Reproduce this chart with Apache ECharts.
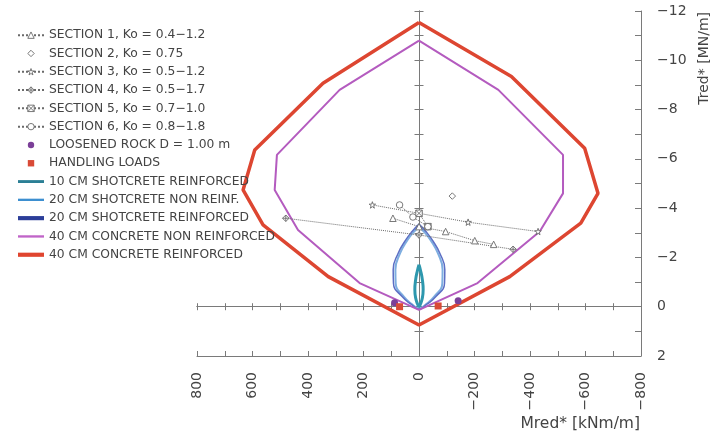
<!DOCTYPE html>
<html><head><meta charset="utf-8">
<script src="https://cdn.jsdelivr.net/npm/echarts@6/dist/echarts.min.js"></script>
<style>html,body{margin:0;padding:0;background:#fff}#c{width:728px;height:435px}</style>
</head><body><div id="c"></div>
<script>
// ---- data (M in kNm/m, T in MN/m) ----
const xMin = -800, xMax = 800, xStep = 100;
const yMin = -12, yMax = 2, yStep = 1;

const sec1 = [[94,-3.59],[0,-3.25],[-96,-3.05],[-201,-2.68],[-269,-2.53]];
const sec2 = [[-120,-4.49]];
const sec3 = [[168,-4.13],[0,-3.79],[-177,-3.43],[-429,-3.05]];
const sec4 = [[480,-3.59],[0,-2.91],[-339,-2.33]];
const sec5 = [[0,-3.79],[-32,-3.25]];
const sec6 = [[70,-4.13],[22,-3.64],[-32,-3.25]];
const loosenedRock = [[88,-0.16],[-141,-0.24]];
const handlingLoads = [[70,0],[-69,-0.03]];

const shot10Reinf = [[0,-1.7],[6,-1.45],[12,-1.1],[15,-0.7],[12,-0.35],[5,-0.1],[0,-0.02],[-5,-0.1],[-12,-0.35],[-15,-0.7],[-12,-1.1],[-6,-1.45],[0,-1.7]];
const shot20NonReinf = [[0,-3.25],[22,-3.0],[42,-2.7],[68,-2.17],[85,-1.5],[84,-0.95],[54,-0.4],[25,-0.1],[0,0.07],[-25,-0.1],[-54,-0.4],[-84,-0.95],[-85,-1.5],[-68,-2.17],[-42,-2.7],[-22,-3.0],[0,-3.25]];
const shot20Reinf = [[0,-3.35],[25,-3.05],[47,-2.72],[75,-2.17],[93,-1.5],[92,-0.95],[60,-0.4],[28,-0.1],[0,0.1],[-28,-0.1],[-60,-0.4],[-92,-0.95],[-93,-1.5],[-75,-2.17],[-47,-2.72],[-25,-3.05],[0,-3.35]];
const conc40NonReinf = [[0,-10.8],[286,-8.8],[512,-6.16],[520,-4.74],[436,-3.11],[214,-0.96],[0,0.13],[-211,-0.96],[-435,-3.05],[-519,-4.6],[-519,-6.16],[-286,-8.8],[0,-10.8]];
const conc40Reinf = [[0,-11.53],[346,-9.07],[592,-6.36],[634,-4.74],[562,-3.32],[327,-1.22],[0,0.74],[-327,-1.22],[-583,-3.39],[-645,-4.6],[-597,-6.43],[-333,-9.34],[0,-11.53]];

const names = [
  'SECTION 1, Ko = 0.4\u22121.2',
  'SECTION 2, Ko = 0.75',
  'SECTION 3, Ko = 0.5\u22121.2',
  'SECTION 4, Ko = 0.5\u22121.7',
  'SECTION 5, Ko = 0.7\u22121.0',
  'SECTION 6, Ko = 0.8\u22121.8',
  'LOOSENED ROCK D = 1.00 m',
  'HANDLING LOADS',
  '10 CM SHOTCRETE REINFORCED',
  '20 CM SHOTCRETE NON REINF.',
  '20 CM SHOTCRETE REINFORCED',
  '40 CM CONCRETE NON REINFORCED',
  '40 CM CONCRETE REINFORCED'
];
const xTitle = 'Mred* [kNm/m]';
const yTitle = 'Tred* [MN/m]';

// ---- chart ----
const FONT = 'DejaVu Sans';
const AX = '#7a7a7a';
const GR = '#6a6a6a';
const fmt = v => v < 0 ? '\u2212' + Math.abs(v) : String(v);
const triPath = 'path://M50,4 L98,90 L2,90 Z';
const diaPath = 'path://M50,0 L80,50 L50,100 L20,50 Z';
const starPath = 'path://M50,2 L61,36 L97,36 L68,57 L79,92 L50,71 L21,92 L32,57 L3,36 L39,36 Z';
const diaCross = 'path://M50,0 L100,50 L50,100 L0,50 Z M50,0 L50,100 M0,50 L100,50';
const boxX = 'path://M5,5 L95,5 L95,95 L5,95 Z M5,5 L95,95 M95,5 L5,95';
const circPath = 'path://M50,3 A47,47 0 1 1 49.9,3 Z';
const bar = h => 'path://M0,0 L100,0 L100,' + h + ' L0,' + h + ' Z';

function secSeries(name, data, symbol, withLine) {
  return {
    name, type: 'line', data, symbol, symbolSize: 6.5, showSymbol: true, z: 5,
    lineStyle: { color: GR, width: 1, type: 'dotted', opacity: withLine ? 1 : 0 },
    itemStyle: { color: '#fff', borderColor: GR, borderWidth: 0.9 }
  };
}
function envSeries(name, data, color, width, z, smooth) {
  return { name, type: 'line', data, showSymbol: false, symbol: 'none', smooth: !!smooth, z,
    lineStyle: { color, width }, itemStyle: { color } };
}

const baseX = { type: 'value', min: xMin, max: xMax, interval: xStep, inverse: true, splitLine: { show: false } };
const baseY = { type: 'value', min: yMin, max: yMax, interval: yStep, inverse: true, splitLine: { show: false } };

const legendData = names.map((n, i) => {
  if (i < 6) return { name: n, itemStyle: { color: '#fff', borderColor: GR, borderWidth: 0.9 } };
  if (i === 8) return { name: n, icon: bar(11), itemStyle: { color: '#2b7f95' } };
  if (i === 9) return { name: n, icon: bar(9), itemStyle: { color: '#3d8fd0' } };
  if (i === 10) return { name: n, icon: bar(16), itemStyle: { color: '#2c3e99' } };
  if (i === 11) return { name: n, icon: bar(9), itemStyle: { color: '#c064c8' } };
  if (i === 12) return { name: n, icon: bar(16), itemStyle: { color: '#e0452f' } };
  return { name: n };
});

const chart = echarts.init(document.getElementById('c'), null, { renderer: 'canvas' });
chart.setOption({
  animation: false,
  backgroundColor: '#fff',
  grid: { left: 197, right: 87, top: 11, bottom: 79, containLabel: false, outerBoundsMode: 'none' },
  xAxis: [
    Object.assign({}, baseX, { position: 'bottom',
      axisLine: { onZero: false, lineStyle: { color: AX } },
      axisTick: { inside: true, length: 5, lineStyle: { color: AX } },
      axisLabel: { rotate: 90, margin: 16, fontSize: 14, fontFamily: FONT, color: '#444',
        formatter: v => v % 200 === 0 ? fmt(v) : '' } }),
    Object.assign({}, baseX, { position: 'bottom',
      axisLine: { onZero: true, onZeroAxisIndex: 0, lineStyle: { color: AX } },
      axisTick: { inside: true, length: 3.5, lineStyle: { color: AX } }, axisLabel: { show: false } }),
    Object.assign({}, baseX, { position: 'bottom',
      axisLine: { onZero: true, onZeroAxisIndex: 0, lineStyle: { color: AX } },
      axisTick: { inside: false, length: 3.5, lineStyle: { color: AX } }, axisLabel: { show: false } })
  ],
  yAxis: [
    Object.assign({}, baseY, { position: 'right',
      axisLine: { onZero: false, lineStyle: { color: AX } },
      axisTick: { inside: true, length: 6, lineStyle: { color: AX } },
      axisLabel: { margin: 16, fontSize: 14, fontFamily: FONT, color: '#444',
        formatter: v => v % 2 === 0 ? fmt(v) : '' } }),
    Object.assign({}, baseY, { position: 'left',
      axisLine: { onZero: true, onZeroAxisIndex: 0, lineStyle: { color: AX } },
      axisTick: { inside: true, length: 4.5, lineStyle: { color: AX } }, axisLabel: { show: false } }),
    Object.assign({}, baseY, { position: 'left',
      axisLine: { onZero: true, onZeroAxisIndex: 0, lineStyle: { color: AX } },
      axisTick: { inside: false, length: 4.5, lineStyle: { color: AX } }, axisLabel: { show: false } })
  ],
  legend: {
    orient: 'vertical', left: 17, top: 26, padding: 0, itemWidth: 26, itemHeight: 8, itemGap: 0,
    textStyle: { fontFamily: FONT, fontSize: 12.3, color: '#444', lineHeight: 18.3 },
    data: legendData
  },
  graphic: [
    { type: 'text', right: 88, top: 416, style: { text: xTitle, font: '15.5px "DejaVu Sans"', fill: '#444' } },
    { type: 'text', left: 697, top: 12, rotation: Math.PI / 2, originX: 0, originY: 0,
      style: { text: yTitle, font: '14px "DejaVu Sans"', fill: '#444' } }
  ],
  series: [
    secSeries(names[0], sec1, triPath, true),
    secSeries(names[1], sec2, diaPath, false),
    secSeries(names[2], sec3, starPath, true),
    secSeries(names[3], sec4, diaCross, true),
    secSeries(names[4], sec5, boxX, true),
    secSeries(names[5], sec6, circPath, true),
    { name: names[6], type: 'line', data: loosenedRock, symbol: 'circle', symbolSize: 7, z: 6,
      lineStyle: { opacity: 0 }, itemStyle: { color: '#7b3f98' } },
    { name: names[7], type: 'line', data: handlingLoads, symbol: 'rect', symbolSize: 7, z: 6,
      lineStyle: { opacity: 0 }, itemStyle: { color: '#d94a36' } },
    envSeries(names[8], shot10Reinf, '#2e98ae', 3, 4, true),
    envSeries(names[9], shot20NonReinf, '#7eaee0', 2, 3, true),
    envSeries(names[10], shot20Reinf, '#5c6fc4', 1.5, 3, true),
    envSeries(names[11], conc40NonReinf, '#b45bbf', 2, 3, false),
    envSeries(names[12], conc40Reinf, '#dd4631', 3.5, 3, false)
  ]
});
</script></body></html>
